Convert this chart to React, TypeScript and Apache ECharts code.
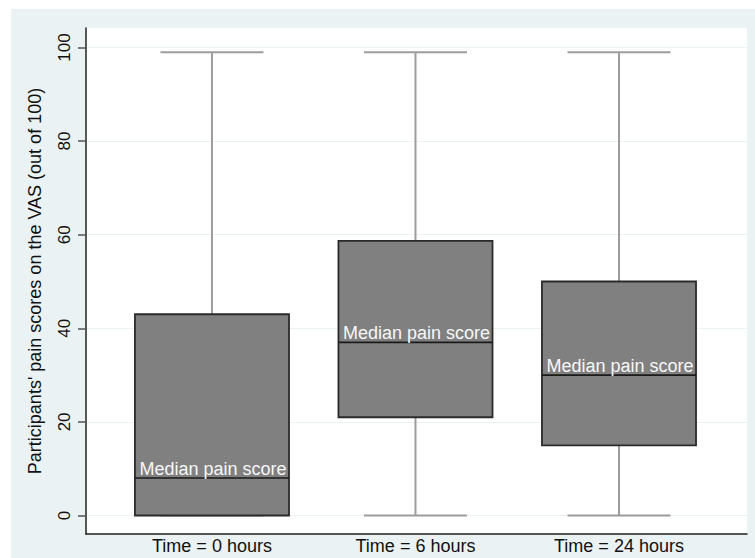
import React, { useEffect, useRef } from "react";
import * as echarts from "echarts";

const categories = ["Time = 0 hours", "Time = 6 hours", "Time = 24 hours"];
const positions = [1, 2, 3];
const mins = [0, 0, 0];
const q1s = [0, 21, 15];
const medians = [8, 37, 30];
const q3s = [43, 58.7, 50];
const maxs = [99, 99, 99];
const yTicks = [0, 20, 40, 60, 80, 100];
const medianLabel = "Median pain score";
const yTitle = "Participants' pain scores on the VAS (out of 100)";

const FONT = "'Liberation Sans', Arial, Helvetica, sans-serif";

export default function App() {
  const ref = useRef<HTMLDivElement>(null);
  useEffect(() => {
    if (!ref.current) return;
    const chart = echarts.init(ref.current, undefined, { renderer: "svg" });
    const data = positions.map((p, i) => [p, mins[i], q1s[i], medians[i], q3s[i], maxs[i]]);
    const option: any = {
      animation: false,
      backgroundColor: "transparent",
      graphic: [
        {
          type: "rect",
          z: -100,
          silent: true,
          shape: { x: 11, y: 9, width: 744, height: 549 },
          style: { fill: "#eaf2f3" },
        },
      ],
      grid: {
        left: 86,
        top: 28,
        width: 661,
        height: 506,
        show: true,
        backgroundColor: "#ffffff",
        borderWidth: 0,
      },
      xAxis: {
        type: "value",
        min: 0.381,
        max: 3.629,
        axisLine: { show: true, onZero: false, lineStyle: { color: "#222", width: 1.5 } },
        axisTick: { show: false },
        splitLine: { show: false },
        axisLabel: {
          customValues: positions,
          formatter: (v: number) => {
            const idx = positions.indexOf(Math.round(v));
            return idx >= 0 ? categories[idx] : "";
          },
          fontFamily: FONT,
          fontSize: 18,
          color: "#111",
          margin: 3,
        },
      },
      yAxis: {
        type: "value",
        min: -3.95,
        max: 104.17,
        name: yTitle,
        nameLocation: "middle",
        nameRotate: 90,
        nameGap: 42,
        nameTextStyle: { fontFamily: FONT, fontSize: 18, color: "#111" },
        axisLine: { show: true, onZero: false, lineStyle: { color: "#222", width: 1.5 } },
        axisTick: {
          show: true,
          customValues: yTicks,
          length: 8,
          lineStyle: { color: "#555", width: 1.5 },
        },
        axisLabel: {
          customValues: yTicks,
          rotate: 90,
          fontFamily: FONT,
          fontSize: 17,
          color: "#111",
          margin: 13,
        },
        splitLine: {
          show: true,
          customValues: yTicks,
          lineStyle: { color: "#eaf2f3", width: 1.2 },
        },
      },
      series: [
        {
          type: "custom",
          encode: { x: 0, y: [1, 2, 3, 4, 5] },
          data,
          renderItem: (params: any, api: any) => {
            const x = api.value(0);
            const unit = api.size([1, 0])[0];
            const boxHalf = (unit * 0.757) / 2;
            const capHalf = (unit * 0.506) / 2;
            const pMin = api.coord([x, api.value(1)]);
            const pQ1 = api.coord([x, api.value(2)]);
            const pMed = api.coord([x, api.value(3)]);
            const pQ3 = api.coord([x, api.value(4)]);
            const pMax = api.coord([x, api.value(5)]);
            const cx = pMed[0];
            const whiskerStyle = { stroke: "#9c9c9c", lineWidth: 2 };
            return {
              type: "group",
              children: [
                {
                  type: "line",
                  shape: { x1: cx, y1: pQ3[1], x2: cx, y2: pMax[1] },
                  style: whiskerStyle,
                },
                {
                  type: "line",
                  shape: { x1: cx - capHalf, y1: pMax[1], x2: cx + capHalf, y2: pMax[1] },
                  style: whiskerStyle,
                },
                {
                  type: "line",
                  shape: { x1: cx, y1: pQ1[1], x2: cx, y2: pMin[1] },
                  style: whiskerStyle,
                },
                {
                  type: "line",
                  shape: { x1: cx - capHalf, y1: pMin[1], x2: cx + capHalf, y2: pMin[1] },
                  style: whiskerStyle,
                },
                {
                  type: "rect",
                  shape: { x: cx - boxHalf, y: pQ3[1], width: boxHalf * 2, height: pQ1[1] - pQ3[1] },
                  style: { fill: "#808080", stroke: "#2a2a2a", lineWidth: 1.8 },
                },
                {
                  type: "line",
                  shape: { x1: cx - boxHalf, y1: pMed[1], x2: cx + boxHalf, y2: pMed[1] },
                  style: { stroke: "#1a1a1a", lineWidth: 1.6 },
                },
                {
                  type: "text",
                  x: cx + 1,
                  y: pMed[1] - 0.5,
                  style: {
                    text: medianLabel,
                    fill: "#f7f7f7",
                    fontFamily: FONT,
                    fontSize: 18,
                    align: "center",
                    verticalAlign: "bottom",
                  },
                },
              ],
            };
          },
        },
      ],
    };
    chart.setOption(option);
    return () => chart.dispose();
  }, []);
  return (
    <div
      ref={ref}
      style={{ position: "absolute", left: 0, top: 0, width: 755, height: 558 }}
    />
  );
}
